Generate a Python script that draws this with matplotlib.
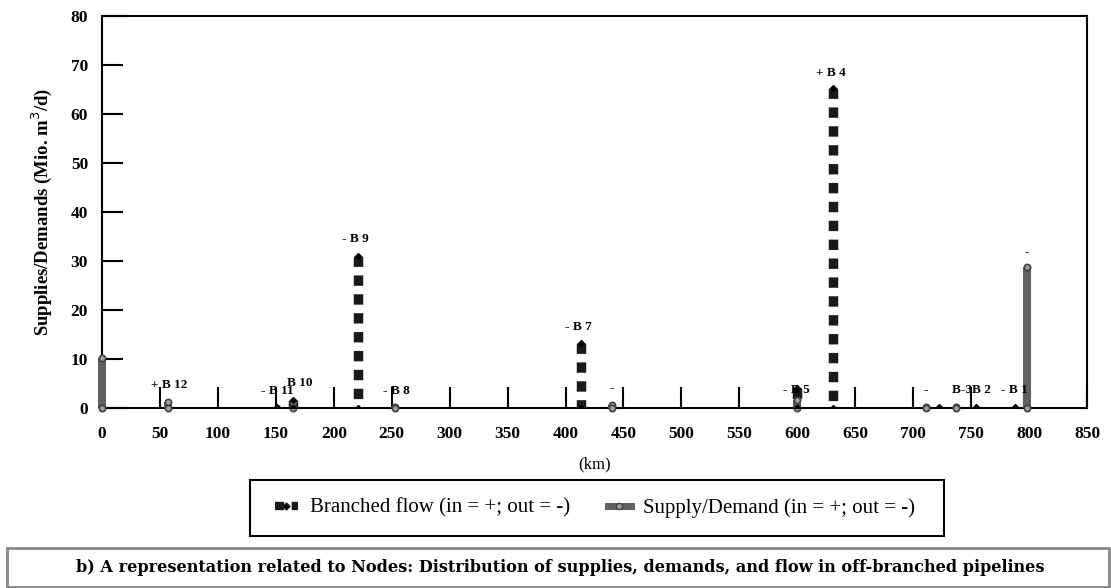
import matplotlib.pyplot as plt
import numpy as np
from matplotlib.patches import Rectangle

# node positions (km) and values (Mio. m3/d)
flow_km = [151, 165, 221, 413, 600, 631, 722, 754, 788]
flow_val = [0.3, 1.6, 31.0, 13.2, 4.0, 65.3, 0.2, 0.2, 0.2]

supply_km = [0, 57, 165, 253, 440, 600, 711, 737, 798]
supply_val = [10.3, 1.3, 1.3, 0.2, 0.6, 1.6, 0.2, 0.2, 28.7]

label_km = [58, 151, 171, 219, 254, 411, 440, 599, 629, 711, 750, 787, 798]
label_val = [4.7, 3.5, 5.1, 34.5, 3.5, 16.5, 4.1, 3.7, 68.4, 3.7, 3.7, 3.7, 31.8]
label_txt = ["+ B 12", "- B 11", "B 10", "- B 9", "- B 8", "- B 7", "-",
             "- B 5", "+ B 4", "-", "B-3B 2", "- B 1", "-"]

xticks = np.arange(0, 851, 50)
yticks = np.arange(0, 81, 10)

plt.rcParams['font.family'] = ['Liberation Serif', 'DejaVu Serif']

W, H = 1111, 588
fig = plt.figure(figsize=(W / 100, H / 100), dpi=100)
ax = fig.add_axes([102 / W, 1 - 408 / H, (1087 - 102) / W, (408 - 16) / H])


def stems(xs, ys):
    # vertical segment from the value down to zero for each node
    px, py = [], []
    for x, y in zip(xs, ys):
        px += [x, x, np.nan]
        py += [y, 0, np.nan]
    return px, py


sx, sy = stems(supply_km, supply_val)
ax.plot(sx, sy, color='#606060', lw=5.8, solid_capstyle='butt', zorder=2.6, clip_on=False)
ax.plot(supply_km, supply_val, 'o', ms=4.5, mfc='#a0a0a0', mec='#404040', mew=1.2, zorder=4, clip_on=False)
ax.plot(supply_km, np.zeros(len(supply_km)), 'o', ms=4.5, mfc='#a0a0a0', mec='#404040', mew=1.2,
        zorder=4, clip_on=False)

fx, fy = stems(flow_km, flow_val)
ax.plot(fx, fy, color='#1a1a1a', lw=6.8, dashes=(1.1, 0.9), dash_capstyle='butt', zorder=3)
ax.plot(flow_km, flow_val, 'D', ms=3, color='black', zorder=5)
ax.plot(flow_km, np.zeros(len(flow_km)), 'D', ms=3, color='black', zorder=5)

for x, y, t in zip(label_km, label_val, label_txt):
    ax.text(x, y, t, ha='center', va='center', fontsize=9.5, fontweight='bold')

ax.set_xlim(0, 850)
ax.set_ylim(0, 80)
ax.set_xticks(xticks)
ax.set_yticks(yticks)
ax.tick_params(direction='in', length=15, width=1.5, labelsize=12.5)
ax.tick_params(axis='x', pad=13)
ax.tick_params(axis='y', pad=10)
for lab in ax.get_xticklabels() + ax.get_yticklabels():
    lab.set_fontweight('bold')
for s in ax.spines.values():
    s.set_linewidth(1.5)
ax.set_xlabel('(km)', fontsize=12, labelpad=10)
ax.set_ylabel('Supplies/Demands (Mio. m$^3$/d)', fontsize=13.5, fontweight='bold', labelpad=12)

# legend box
fig.patches.append(Rectangle((250 / W, 1 - 536 / H), 694 / W, 56 / H,
                             transform=fig.transFigure, fill=False, ec='black', lw=1.5))
h1, = plt.plot([], [], color='#1a1a1a', lw=6, dashes=(1.1, 0.9), marker='D', ms=3.5, mfc='black')
h2, = plt.plot([], [], color='#606060', lw=5, marker='o', ms=4.5, mfc='#a0a0a0', mec='#404040')
fig.legend([h1, h2], ['Branched flow (in = +; out = -)', 'Supply/Demand (in = +; out = -)'],
           loc='center', bbox_to_anchor=(595 / W, 1 - 508 / H), ncol=2, frameon=False,
           fontsize=15, handlelength=1.1, handletextpad=0.6, columnspacing=1.8)

# caption box
fig.patches.append(Rectangle((7 / W, 1 - 587 / H), 1102 / W, 39 / H,
                             transform=fig.transFigure, fill=False, ec='#888888', lw=2))
fig.text(560 / W, 1 - 567 / H,
         'b) A representation related to Nodes: Distribution of supplies, demands, and flow in off-branched pipelines',
         ha='center', va='center', fontsize=11.6, fontweight='bold', family='DejaVu Serif')

fig.savefig('out.png', dpi=100)
